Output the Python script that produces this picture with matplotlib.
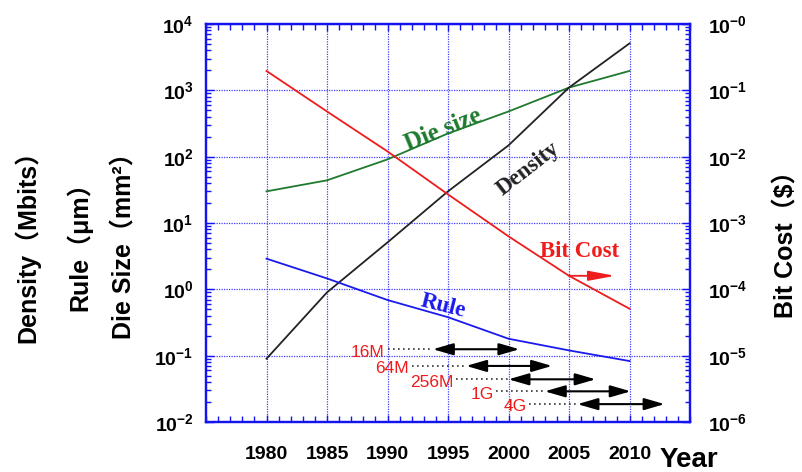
import matplotlib
matplotlib.use('Agg')
import matplotlib.pyplot as plt
from matplotlib.ticker import MultipleLocator, LogLocator, NullFormatter, FixedLocator

plt.rcParams['mathtext.fontset'] = 'custom'
plt.rcParams['mathtext.rm'] = 'Liberation Sans'
plt.rcParams['mathtext.bf'] = 'Liberation Sans:bold'
plt.rcParams['mathtext.it'] = 'Liberation Sans:italic'
plt.rcParams['font.family'] = ['Liberation Sans', 'Noto Sans CJK SC', 'DejaVu Sans']

# ---------------- data ----------------
years = [1980, 1985, 1990, 1995, 2000, 2005, 2010]
density = [0.09, 0.9, 5.1, 30, 148, 1100, 5100]          # Mbits
die_size = [30, 44, 91, 224, 480, 1100, 1960]            # mm^2
rule = [2.9, 1.46, 0.69, 0.38, 0.18, 0.12, 0.083]        # um
bit_cost = [0.196, 0.048, 0.012, 0.0027, 6.3e-4, 1.6e-4, 5.1e-5]  # $

left_exps = [-2, -1, 0, 1, 2, 3, 4]
left_tick_labels = ['-2', '-1', '0', '1', '2', '3', '4']
right_exps = [-6, -5, -4, -3, -2, -1, 0]
right_tick_labels = ['-6', '-5', '-4', '-3', '-2', '-1', '-0']

gen_labels = ['16M', '64M', '256M', '1G', '4G']
gen_dot_start = [1990.0, 1992.0, 1995.7, 1999.0, 2001.7]
gen_start = [1993.75, 1996.5, 2000.0, 2003.0, 2005.7]
gen_end = [2000.9, 2003.6, 2007.2, 2010.1, 2012.9]
gen_level = [0.125, 0.07, 0.044, 0.029, 0.0186]

# ---------------- figure ----------------
W, H = 803, 472
fig = plt.figure(figsize=(W / 100, H / 100), dpi=100)
ax = fig.add_axes([206 / W, 1 - 422 / H, 484 / W, 398 / H])
ax2 = ax.twinx()

frame_blue = '#1414f0'
grid_blue = '#4040ff'

ax.set_xlim(1975, 2015)
ax.set_yscale('log')
ax.set_ylim(1e-2, 1e4)
ax2.set_yscale('log')
ax2.set_ylim(1e-6, 1)

for a in (ax, ax2):
    for s in a.spines.values():
        s.set_color(frame_blue)
        s.set_linewidth(1.6)

ax.set_axisbelow(True)
ax.grid(True, which='major', color=grid_blue, linestyle=(0, (1, 1)), linewidth=0.9)

# x ticks
ax.set_xticks(years)
ax.set_xticklabels([str(y) for y in years], fontsize=14, fontweight='bold')
ax.xaxis.set_minor_locator(MultipleLocator(1))
ax.tick_params(axis='x', which='both', direction='in', top=True, bottom=True,
               color=frame_blue, pad=17)
ax.tick_params(axis='x', which='major', length=5, width=1)
ax.tick_params(axis='x', which='minor', length=4, width=1)

# left y ticks
ax.yaxis.set_major_locator(FixedLocator([10.0 ** e for e in left_exps]))
ax.set_yticklabels([r'$\mathbf{10^{%s}}$' % t for t in left_tick_labels], fontsize=14)
ax.yaxis.set_minor_locator(LogLocator(base=10, subs=[2, 3, 4, 5, 6, 7, 8, 9], numticks=20))
ax.yaxis.set_minor_formatter(NullFormatter())
ax.tick_params(axis='y', which='both', direction='in', left=True, right=False,
               color=frame_blue, pad=9)
ax.tick_params(axis='y', which='major', length=6, width=1)
ax.tick_params(axis='y', which='minor', length=3.5, width=1)

# right y ticks
ax2.yaxis.set_major_locator(FixedLocator([10.0 ** e for e in right_exps]))
ax2.set_yticklabels([r'$\mathbf{10^{%s}}$' % t for t in right_tick_labels], fontsize=14)
ax2.yaxis.set_minor_locator(LogLocator(base=10, subs=[2, 3, 4, 5, 6, 7, 8, 9], numticks=20))
ax2.yaxis.set_minor_formatter(NullFormatter())
ax2.tick_params(axis='y', which='both', direction='in', right=True, left=False,
                color=frame_blue, pad=13)
ax2.tick_params(axis='y', which='major', length=6, width=1)
ax2.tick_params(axis='y', which='minor', length=3.5, width=1)

# ---------------- lines ----------------
c_density = '#222222'
c_die = '#1f7a30'
c_rule = '#1a1aee'
c_cost = '#ee1c1c'

ax.plot(years, die_size, color=c_die, lw=1.3)
ax.plot(years, density, color=c_density, lw=1.3)
ax.plot(years, rule, color=c_rule, lw=1.3)
ax2.plot(years, bit_cost, color=c_cost, lw=1.3)

serif = 'Liberation Serif'
ax.text(1994.6, 255, 'Die size', color=c_die, fontsize=18, fontweight='bold',
        family=serif, rotation=22, ha='center', va='center', rotation_mode='anchor')
ax.text(2001.6, 65, 'Density', color=c_density, fontsize=16.5, fontweight='bold',
        family=serif, rotation=38, ha='center', va='center', rotation_mode='anchor')
ax.text(1994.6, 0.55, 'Rule', color=c_rule, fontsize=16.5, fontweight='bold',
        family=serif, rotation=-14, ha='center', va='center', rotation_mode='anchor')
ax2.text(2005.9, 3.7e-4, 'Bit Cost', color=c_cost, fontsize=16.5, fontweight='bold',
         family=serif, ha='center', va='center')
ax2.annotate('', xy=(2008.8, bit_cost[5]), xytext=(years[5], bit_cost[5]),
             arrowprops=dict(arrowstyle='-|>,head_length=0.8,head_width=0.15',
                             mutation_scale=20, color=c_cost, lw=1.3,
                             shrinkA=0, shrinkB=0))

# ---------------- generation arrows ----------------
for lab, ds, s, e, lv in zip(gen_labels, gen_dot_start, gen_start, gen_end, gen_level):
    ax.plot([ds, s], [lv, lv], color='#333333', ls=(0, (1, 2)), lw=1.2)
    ax.annotate('', xy=(e, lv), xytext=(s, lv),
                arrowprops=dict(arrowstyle='<|-|>,head_length=0.62,head_width=0.18',
                                mutation_scale=20, color='black', lw=1.5,
                                shrinkA=0, shrinkB=0))
    ax.annotate(lab, xy=(ds, lv), xytext=(-2, -2), textcoords='offset points',
                ha='right', va='center', color=c_cost, fontsize=12.5,
                family='Liberation Sans')

# ---------------- axis titles ----------------
lab_family = ['Liberation Sans', 'Noto Sans CJK SC', 'DejaVu Sans']
for xp, txt in [(27, 'Density（Mbits）'), (79, 'Rule（μm）'), (125, 'Die Size（mm²）')]:
    fig.text(xp / W, 1 - 240 / H, txt, rotation=90, ha='center', va='center',
             fontsize=18, fontweight='bold', family=lab_family)
fig.text(787 / W, 1 - 238 / H, 'Bit Cost（$）', rotation=90, ha='center', va='center',
         fontsize=18, fontweight='bold', family=lab_family)
fig.text(689 / W, 1 - 467 / H, 'Year', ha='center', va='baseline',
         fontsize=20, fontweight='bold', family=lab_family)

fig.savefig('out.png', dpi=100)
